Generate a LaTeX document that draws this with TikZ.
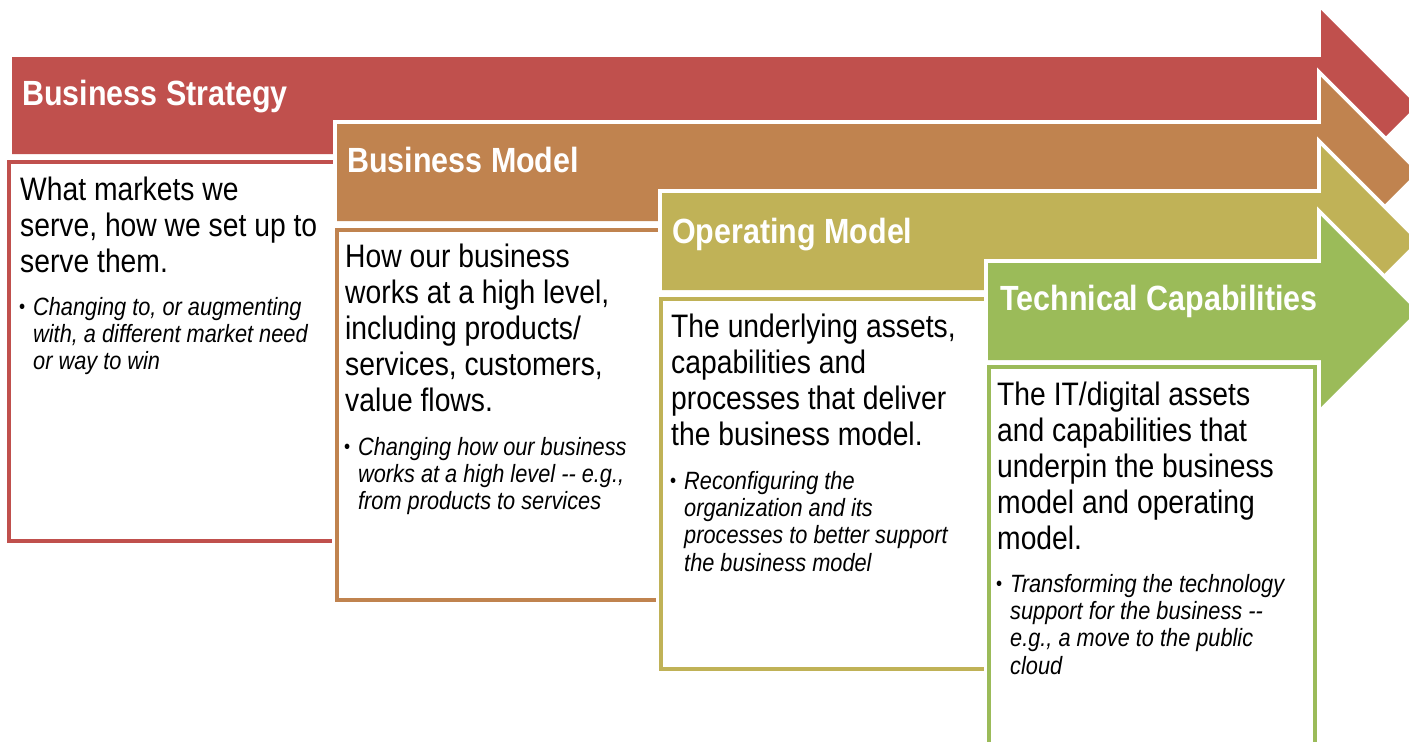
\documentclass[tikz,border=0pt]{standalone}
\usepackage{fontspec}
\setmainfont{Liberation Sans}[FakeStretch=0.87]
\definecolor{stratred}{HTML}{C0504D}
\definecolor{modelorange}{HTML}{C0834F}
\definecolor{opolive}{HTML}{C0B257}
\definecolor{techgreen}{HTML}{9BBB59}

\tikzset{
  title/.style={anchor=base west, inner sep=0pt, text=white,
    font=\fontsize{35}{40}\selectfont\bfseries},
  body/.style={anchor=north west, inner sep=0pt, align=left,
    font=\fontsize{32.5}{36}\selectfont},
  note/.style={anchor=north west, inner sep=0pt, align=left,
    font=\fontsize{25}{27.3}\selectfont\itshape},
  stepframe/.style={fill=white, draw=#1, line width=4.5pt,
    preaction={draw=white, line width=11pt}},
  band/.style={fill=#1, line join=miter,
    preaction={draw=white, line width=8pt, line join=miter}},
}

% one chevron band: left x, shaft top y, colour
\newcommand\chevronband[3]{%
  \path[band=#3] (#1,#2) -- (1321,#2) -- (1321,#2-47) -- (1416.5,#2+48.5)
    -- (1321,#2+144) -- (1321,#2+97) -- (#1,#2+97) -- cycle;}
\newcommand\bulletmark{\llap{\upshape\raisebox{1.5pt}{\fontsize{20}{20}\selectfont\textbullet}\hspace{8pt}}}

\begin{document}
\begin{tikzpicture}[x=1pt,y=-1pt]
  \useasboundingbox (0,0) rectangle (1409,742);
  \fill[white] (0,0) rectangle (1409,742);
  \clip (0,0) rectangle (1409,742);

  % Business Strategy
  \chevronband{12}{57}{stratred}
  \path[stepframe=stratred] (9,162) rectangle (345,541);
  \node[title] (strategy) at (22,105) {Business Strategy};
  \node[body] (strategytext) at (20,175)
    {\rule{0pt}{25pt}What markets we\\serve, how we set up to\\serve them.};
  \node[note] (strategynote) at (33,295)
    {\rule{0pt}{20pt}\bulletmark Changing to, or augmenting\\with, a different market need\\or way to win};

  % Business Model
  \chevronband{337}{124}{modelorange}
  \path[stepframe=modelorange] (337,230) rectangle (670,600);
  \node[title] (model) at (347,172) {Business Model};
  \node[body] (modeltext) at (345,242)
    {\rule{0pt}{25pt}How our business\\works at a high level,\\including products/\\services, customers,\\value flows.};
  \node[note] (modelnote) at (358,435)
    {\rule{0pt}{20pt}\bulletmark Changing how our business\\works at a high level -{}- e.g.,\\from products to services};

  % Operating Model
  \chevronband{662}{193}{opolive}
  \path[stepframe=opolive] (661,299) rectangle (995,669);
  \node[title] (operating) at (672,243) {Operating Model};
  \node[body] (operatingtext) at (671,312)
    {\rule{0pt}{25pt}The underlying assets,\\capabilities and\\processes that deliver\\the business model.};
  \node[note] (operatingnote) at (684,469)
    {\rule{0pt}{20pt}\bulletmark Reconfiguring the\\organization and its\\processes to better support\\the business model};

  % Technical Capabilities
  \chevronband{988}{263}{techgreen}
  \path[stepframe=techgreen] (989,367) rectangle (1315,770);
  \node[title] (technical) at (1000,310) {Technical Capabilities};
  \node[body] (technicaltext) at (997,380)
    {\rule{0pt}{25pt}The IT/digital assets\\and capabilities that\\underpin the business\\model and operating\\model.};
  \node[note] (technicalnote) at (1010,572)
    {\rule{0pt}{20pt}\bulletmark Transforming the technology\\support for the business -{}-\\e.g., a move to the public\\cloud};
\end{tikzpicture}
\end{document}
